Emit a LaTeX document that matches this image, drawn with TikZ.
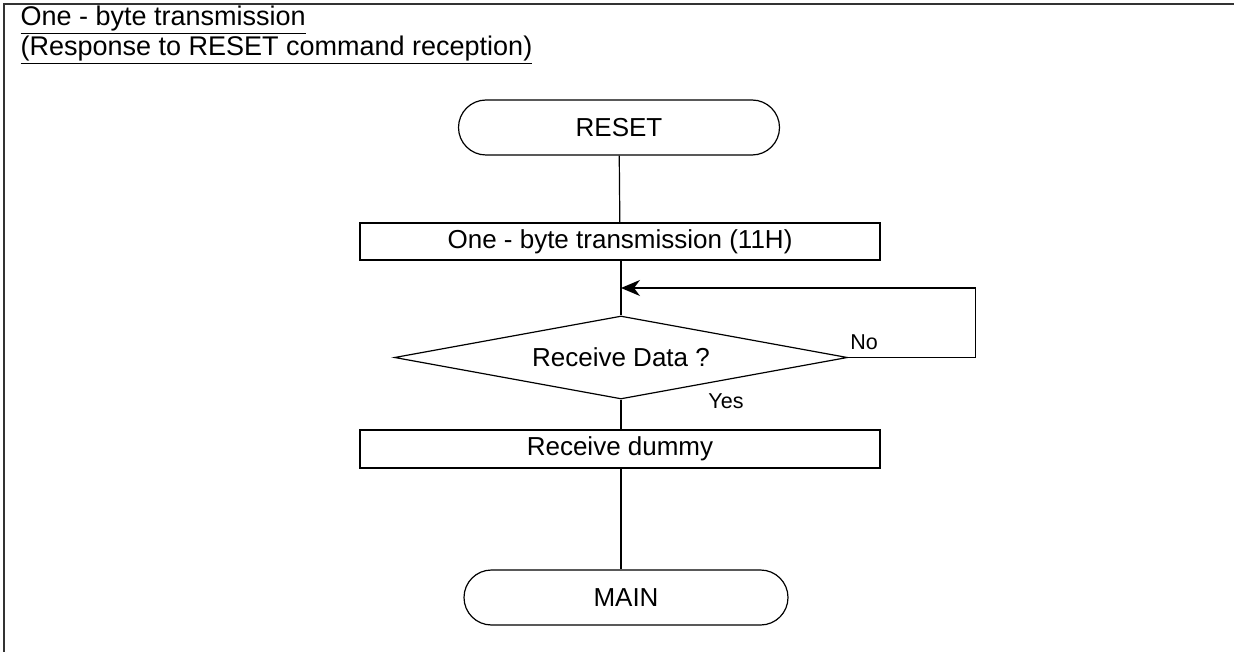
\documentclass[tikz,border=0pt]{standalone}
\usepackage{fontspec}
\setmainfont{Liberation Sans}
\usetikzlibrary{arrows.meta,shapes.misc,shapes.geometric}

\begin{document}
\begin{tikzpicture}[x=1pt,y=-1pt,line width=1.2pt,
  font=\fontsize{26}{31}\selectfont,
  term/.style={draw,rounded rectangle,minimum width=321pt,minimum height=55pt,inner sep=0pt},
  proc/.style={draw,rectangle,minimum width=520pt,minimum height=37pt,inner sep=0pt},
  decide/.style={draw,diamond,aspect=5.46,minimum width=453pt,minimum height=83pt,inner sep=0pt},
  lbl/.style={font=\fontsize{21.5}{26}\selectfont,inner sep=0pt},
  head/.style={anchor=base west,inner sep=0pt,font=\fontsize{27}{32}\selectfont}]
\useasboundingbox (0,0) rectangle (1234,652);
\draw[line width=2pt,black!80] (4,652)--(4,4)--(1234,4);
\node[head] (title1) at (20,26){\underline{One - byte transmission}};
\node[head] (title2) at (20,56){\underline{(Response to RESET command reception)}};

\node[term] (reset) at (619,127.5){RESET};
\node[proc] (tx) at (620,241.5){One - byte transmission (11H)};
\node[decide] (chk) at (621,357.5){Receive Data ?};
\node[proc,minimum height=38pt] (dummy) at (620,449){Receive dummy};
\node[term,minimum width=324pt] (main) at (626,597.5){MAIN};
\coordinate (join) at (621,288);

\node[lbl] (no) at (864,342){No};
\node[lbl] (yes) at (726,401){Yes};

\draw (reset) -- (tx);
\draw (tx.south -| chk.north) -- (chk.north);
\draw[-{Stealth[length=19pt,width=16pt,inset=6pt]}] (chk.east) -- ++(127,0) |- (join);
\draw (chk.south) -- (chk.south |- dummy.north);
\draw (dummy.south -| chk.south) -- (chk.south |- main.north);
\end{tikzpicture}
\end{document}
